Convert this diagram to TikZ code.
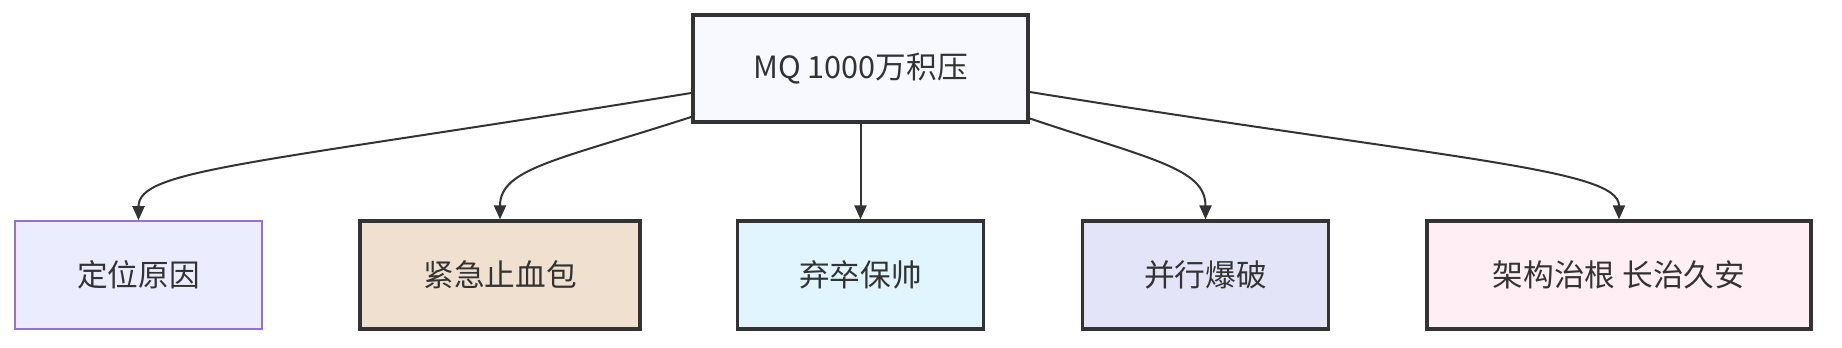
\documentclass[tikz,border=0pt]{standalone}
\usepackage{fontspec}
\setmainfont{Noto Sans CJK SC}
\usetikzlibrary{arrows.meta,calc}
\definecolor{ink}{HTML}{333333}
\definecolor{topfill}{HTML}{F8F8FF}
\definecolor{f1}{HTML}{ECECFF}
\definecolor{b1}{HTML}{9370DB}
\definecolor{f2}{HTML}{F0E0D0}
\definecolor{f3}{HTML}{E1F5FE}
\definecolor{f4}{HTML}{E4E4F8}
\definecolor{f5}{HTML}{FFEEF3}
\begin{document}
\begin{tikzpicture}[x=0.75pt,y=-0.75pt,
  box/.style={draw=ink,line width=2.4pt,text=ink,inner sep=0pt,
    font=\fontsize{23}{28}\selectfont,minimum height=81pt},
  conn/.style={draw=ink,line width=1.5pt,-{Triangle[length=10.5pt,width=9pt]}}]
\useasboundingbox (0,0) rectangle (1842,348);
\node[box,line width=3pt,fill=topfill,minimum width=251pt,minimum height=80pt] (top) at (860.5,68.5) {MQ 1000万积压};
\node[box,draw=b1,line width=1.2pt,fill=f1,minimum width=185pt] (n1) at (138.5,275) {定位原因};
\node[box,fill=f2,minimum width=210pt] (n2) at (500,275) {紧急止血包};
\node[box,fill=f3,minimum width=185pt] (n3) at (860.5,275) {弃卒保帅};
\node[box,fill=f4,minimum width=185pt] (n4) at (1205.5,275) {并行爆破};
\node[box,fill=f5,minimum width=288pt] (n5) at (1619,275) {架构治根 长治久安};
\coordinate (s1) at ($(top.west)+(0,24.5)$);
\coordinate (s2) at ($(top.west)+(0,48.5)$);
\coordinate (s4) at ($(top.east)+(0,50)$);
\coordinate (s5) at ($(top.east)+(0,23.5)$);
\draw[conn] (s1) .. controls ($(s1)+(-443,72)$) and ($(n1.north)+(0,-51)$) .. (n1.north);
\draw[conn] (s2) .. controls ($(s2)+(-133,43)$) and ($(n2.north)+(0,-51)$) .. (n2.north);
\draw[conn] (top.south) -- (n3.north);
\draw[conn] (s4) .. controls ($(s4)+(122,41)$) and ($(n4.north)+(0,-51)$) .. (n4.north);
\draw[conn] (s5) .. controls ($(s5)+(422,68)$) and ($(n5.north)+(0,-51)$) .. (n5.north);
\end{tikzpicture}
\end{document}
